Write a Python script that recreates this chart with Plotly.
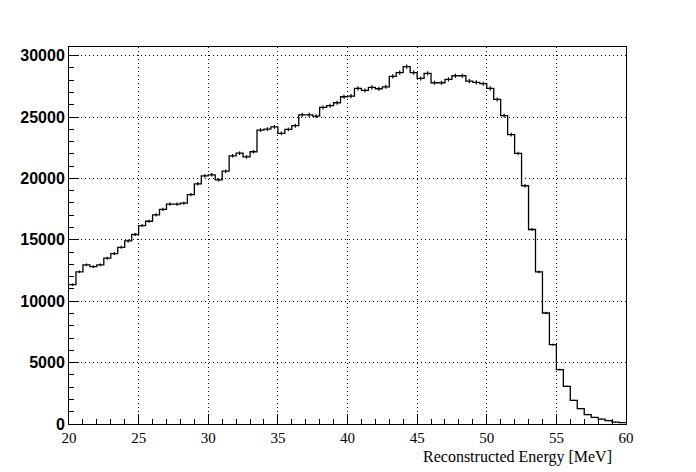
import numpy as np
import plotly.graph_objects as go

# Histogram: 80 bins of 0.5 MeV from 20 to 60 MeV
bin_low = 20.0
bin_width = 0.5
counts = [
    11350, 12390, 12960, 12820, 12960, 13500, 13880, 14390, 14910, 15430,
    16160, 16510, 17030, 17470, 17900, 17900, 17980, 18680, 19560, 20210,
    20290, 19880, 20590, 21840, 22050, 21760, 22170, 23930, 24010, 24200,
    23660, 23990, 24290, 25180, 25180, 25070, 25780, 25920, 26160, 26650,
    26700, 27330, 27160, 27410, 27300, 27460, 28310, 28610, 29100, 28610,
    28140, 28550, 27790, 27790, 28060, 28360, 28360, 27920, 27820, 27710,
    27330, 26430, 25110, 23560, 22030, 19400, 15840, 12390, 9040, 6460,
    4430, 3070, 1930, 1250, 760, 540, 400, 270, 160, 120,
]
x_title = "Reconstructed Energy [MeV]"
y_max = 30700

n = len(counts)
edges = [bin_low + bin_width * i for i in range(n + 1)]
centers = [bin_low + bin_width * (i + 0.5) for i in range(n)]
errs = [float(np.sqrt(c)) for c in counts]

fig = go.Figure()
fig.add_trace(go.Scatter(
    x=edges, y=counts + [counts[-1]], mode="lines",
    line=dict(color="black", width=1.3, shape="hv"),
    hoverinfo="skip", showlegend=False,
))
fig.add_trace(go.Scatter(
    x=centers, y=counts, mode="markers",
    marker=dict(size=1, color="black"),
    error_y=dict(type="data", array=errs, visible=True, color="black", thickness=1.2, width=0),
    showlegend=False,
))

fig.update_layout(
    width=696, height=472,
    margin=dict(l=69, r=70, t=47, b=48),
    paper_bgcolor="white", plot_bgcolor="white",
    xaxis=dict(
        range=[20, 60], tickmode="linear", tick0=20, dtick=5,
        ticks="inside", ticklen=10, tickwidth=1, tickcolor="black",
        minor=dict(dtick=1, ticks="inside", ticklen=5, tickcolor="black", showgrid=False),
        showgrid=True, gridcolor="black", griddash="1px,3px", gridwidth=1,
        showline=True, linecolor="black", linewidth=1, mirror=True,
        zeroline=False, automargin=False,
        tickfont=dict(family="Liberation Serif", size=15, color="black"),
    ),
    yaxis=dict(
        range=[0, y_max], tickmode="linear", tick0=0, dtick=5000,
        tickformat="d",
        ticks="inside", ticklen=10, tickwidth=1, tickcolor="black",
        minor=dict(dtick=1000, ticks="inside", ticklen=5, tickcolor="black", showgrid=False),
        showgrid=True, gridcolor="black", griddash="1px,3px", gridwidth=1,
        showline=True, linecolor="black", linewidth=1, mirror=True,
        zeroline=False, automargin=False,
        tickfont=dict(family="Liberation Sans", size=16, color="black", weight="bold"),
    ),
    annotations=[dict(
        text=x_title, xref="paper", yref="paper", x=0.978, y=-0.0875,
        xanchor="right", yanchor="middle", showarrow=False,
        font=dict(family="Liberation Serif", size=16, color="black"),
    )],
)

fig.write_html(
    "out.html",
    config={"displayModeBar": False},
    post_script="document.body.style.margin='0';document.body.style.overflow='hidden';",
)
